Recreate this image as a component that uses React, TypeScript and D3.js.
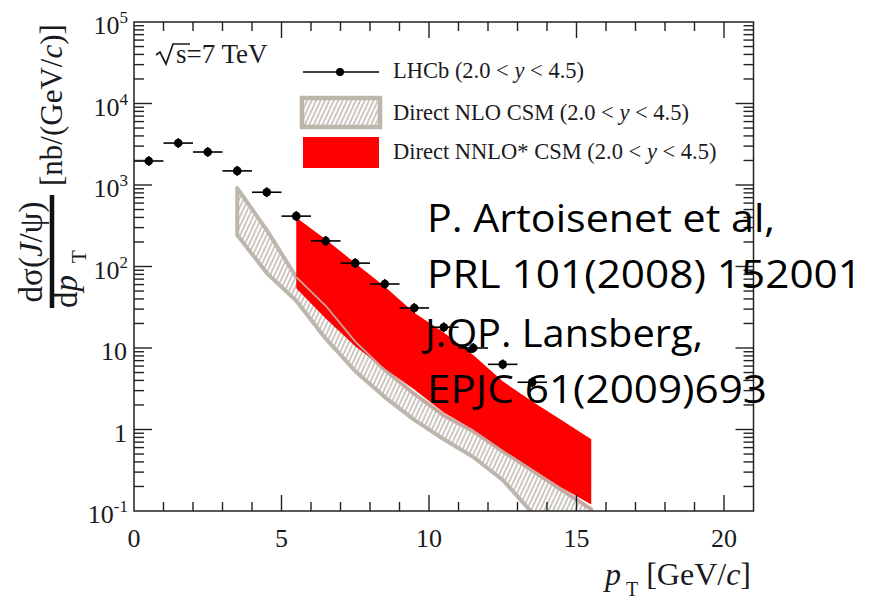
import React from "react";
import * as d3 from "d3";

// LHCb J/psi differential cross-section, 2.0 < y < 4.5
const ptBins = [0.5, 1.5, 2.5, 3.5, 4.5, 5.5, 6.5, 7.5, 8.5, 9.5, 10.5, 11.5, 12.5, 13.5];
const lhcbXsec = [1970, 3270, 2540, 1490, 815, 415, 206, 110, 61, 31, 18, 10, 6.3, 3.8];

// Direct NLO CSM band
const nloPt = [3.5, 4.5, 5.5, 6.5, 7.5, 8.5, 9.5, 10.5, 11.5, 12.5, 13.5, 14.5, 15.5];
const nloUpper = [918, 280, 74, 33, 12, 5.4, 2.73, 1.49, 0.95, 0.54, 0.314, 0.181, 0.105];
const nloLower = [244, 83, 38, 13, 5.2, 2.5, 1.31, 0.76, 0.46, 0.24, 0.095, 0.05, 0.03];

// Direct NNLO* CSM band
const nnloPt = [5.5, 6.5, 7.5, 8.5, 9.5, 10.5, 11.5, 12.5, 13.5, 14.5, 15.5];
const nnloUpper = [400, 215, 110, 57, 27, 15.5, 8.2, 3.9, 2.2, 1.3, 0.76];
const nnloLower = [54, 23, 10.5, 5.6, 3.1, 1.62, 1.0, 0.565, 0.33, 0.193, 0.12];

const xTickLabels = ["0", "5", "10", "15", "20"];
const yDecades = [-1, 0, 1, 2, 3, 4, 5];

const legendLabels = ["LHCb (2.0 < ", "Direct NLO CSM (2.0 < ", "Direct NNLO* CSM (2.0 < "];
const noteLines = ["P. Artoisenet et al,", "PRL 101(2008) 152001", "J.QP. Lansberg,", "EPJC 61(2009)693"];
const noteWidths = [348, 435, 278, 340];

const serif = "'Liberation Serif', 'DejaVu Serif', serif";
const ink = "#1a1a22";

export default function App() {
  const left = 134, right = 753.5, top = 22, bottom = 511;
  const x = d3.scaleLinear().domain([0, 21]).range([left, right]);
  const y = d3.scaleLog().domain([0.1, 1e5]).range([bottom, top]);

  const band = (pts: number[], hi: number[], lo: number[]) =>
    d3
      .area<number>()
      .x((_, i) => x(pts[i]))
      .y0((_, i) => y(lo[i]))
      .y1((_, i) => y(hi[i]))(pts) as string;

  const edge = (pts: number[], vals: number[]) =>
    d3
      .line<number>()
      .x((_, i) => x(pts[i]))
      .y((d) => y(d))(vals) as string;

  const xMinor = d3.range(1, 21);
  const yMinor: number[] = [];
  yDecades.slice(0, -1).forEach((e) => {
    for (let k = 2; k <= 9; k++) yMinor.push(k * Math.pow(10, e));
  });

  return (
    <svg
      width={877}
      height={603}
      style={{ position: "absolute", left: 0, top: 0, background: "#fff" }}
    >
      <defs>
        <clipPath id="plot">
          <rect x={left} y={top} width={right - left} height={bottom - top} />
        </clipPath>
        <pattern
          id="hatch"
          width={4}
          height={4}
          patternUnits="userSpaceOnUse"
          patternTransform="rotate(25)"
        >
          <rect width={4} height={4} fill="#fff" />
          <line x1={1} y1={0} x2={1} y2={4} stroke="#c4beb6" strokeWidth={1.7} />
        </pattern>
      </defs>

      {/* bands */}
      <g clipPath="url(#plot)">
        <path d={band(nloPt, nloUpper, nloLower)} fill="url(#hatch)" stroke="#bdb6ad" strokeWidth={4} strokeLinejoin="round" />
        <path d={band(nnloPt, nnloUpper, nnloLower)} fill="#ff0000" />
        <path
          d={edge(nloPt.slice(2), nloUpper.slice(2))}
          fill="none"
          stroke="#cfa39b"
          strokeWidth={1.8}
        />
      </g>

      {/* LHCb points */}
      <g>
        {ptBins.map((pt, i) => (
          <g key={pt}>
            <line
              x1={x(pt - 0.5)}
              x2={x(pt + 0.5)}
              y1={y(lhcbXsec[i])}
              y2={y(lhcbXsec[i])}
              stroke="#000"
              strokeWidth={1.6}
            />
            <line
              x1={x(pt)}
              x2={x(pt)}
              y1={y(lhcbXsec[i] * 1.15)}
              y2={y(lhcbXsec[i] / 1.15)}
              stroke="#000"
              strokeWidth={1.6}
            />
            <circle cx={x(pt)} cy={y(lhcbXsec[i])} r={4.3} fill="#000" />
          </g>
        ))}
      </g>

      {/* frame and ticks */}
      <rect
        x={left}
        y={top}
        width={right - left}
        height={bottom - top}
        fill="none"
        stroke="#222"
        strokeWidth={1.5}
      />
      <g stroke="#222" strokeWidth={1.4}>
        {xMinor.map((v) => {
          const len = v % 5 === 0 ? 16 : 9;
          return (
            <g key={"x" + v}>
              <line x1={x(v)} x2={x(v)} y1={bottom} y2={bottom - len} />
              <line x1={x(v)} x2={x(v)} y1={top} y2={top + len} />
            </g>
          );
        })}
        {yDecades.slice(1, -1).map((e) => {
          const v = Math.pow(10, e);
          return (
            <g key={"yM" + e}>
              <line x1={left} x2={left + 18} y1={y(v)} y2={y(v)} />
              <line x1={right} x2={right - 18} y1={y(v)} y2={y(v)} />
            </g>
          );
        })}
        {yMinor.map((v) => (
          <g key={"ym" + v}>
            <line x1={left} x2={left + 10} y1={y(v)} y2={y(v)} />
            <line x1={right} x2={right - 10} y1={y(v)} y2={y(v)} />
          </g>
        ))}
      </g>

      {/* tick labels */}
      <g fontFamily={serif} fontSize={26} fill={ink}>
        {xTickLabels.map((t) => (
          <text key={t} x={x(+t)} y={547} textAnchor="middle">
            {t}
          </text>
        ))}
        {yDecades.map((e) => {
          const v = Math.pow(10, e);
          const yy = y(v) + 12;
          if (e === 0)
            return (
              <text key={e} x={127} y={yy} textAnchor="end">
                1
              </text>
            );
          if (e === 1)
            return (
              <text key={e} x={127} y={yy} textAnchor="end">
                10
              </text>
            );
          return (
            <text key={e} x={128} y={yy} textAnchor="end">
              10
              <tspan fontSize={17} dy={-11}>
                {e === -1 ? "-1" : String(e)}
              </tspan>
            </text>
          );
        })}
      </g>

      {/* axis titles */}
      <text x={751} y={585} textAnchor="end" fontFamily={serif} fontSize={32} fill={ink}>
        <tspan fontStyle="italic">p</tspan>
        <tspan fontSize={20} dx={5} dy={11}>
          T
        </tspan>
        <tspan dx={8} dy={-11}>
          [GeV/
        </tspan>
        <tspan fontStyle="italic">c</tspan>
        <tspan>]</tspan>
      </text>

      <g transform="rotate(-90)" fontFamily={serif} fill={ink}>
        <text x={-252} y={42} textAnchor="middle" fontSize={33}>
          dσ(<tspan fontStyle="italic">J</tspan>/ψ)
        </text>
        <line x1={-195} x2={-308} y1={52} y2={52} stroke="#111" strokeWidth={4.5} />
        <text x={-308} y={77} textAnchor="start" fontSize={33}>
          d<tspan fontStyle="italic">p</tspan>
          <tspan fontSize={21} dx={12} dy={9}>
            T
          </tspan>
        </text>
        <text x={-186} y={62} textAnchor="start" fontSize={31}>
          [nb/(GeV/<tspan fontStyle="italic">c</tspan>)]
        </text>
      </g>

      {/* sqrt(s) */}
      <path
        d="M156,55 L160,52 L166,64 L173,44 L190,44"
        fill="none"
        stroke={ink}
        strokeWidth={1.7}
      />
      <text x={176} y={63} fontFamily={serif} fontSize={27} fill={ink}>
        s=7 TeV
      </text>

      {/* legend */}
      <g fontFamily={serif} fontSize={22.5} fill={ink}>
        <line x1={303} x2={379} y1={72} y2={72} stroke="#000" strokeWidth={1.6} />
        <circle cx={340} cy={72} r={4} fill="#000" />
        <rect x={302} y={98} width={78} height={29} fill="url(#hatch)" stroke="#bdb6ad" strokeWidth={4.5} />
        <rect x={303} y={137} width={76} height={31} fill="#ff0000" />
        {legendLabels.map((t, i) => (
          <text key={t} x={393} y={[78, 120, 159][i]}>
            {t}
            <tspan fontStyle="italic">y</tspan> {"< 4.5)"}
          </text>
        ))}
      </g>

      {/* reference annotation */}
      <g fontFamily="'Open Sans', 'Noto Sans', sans-serif" fontSize={39} fill="#000">
        {noteLines.map((t, i) => (
          <text
            key={t}
            x={i === 2 ? 425 : 427}
            y={[232, 288, 347, 403][i]}
            textLength={noteWidths[i]}
            lengthAdjust="spacingAndGlyphs"
          >
            {t}
          </text>
        ))}
      </g>
    </svg>
  );
}
